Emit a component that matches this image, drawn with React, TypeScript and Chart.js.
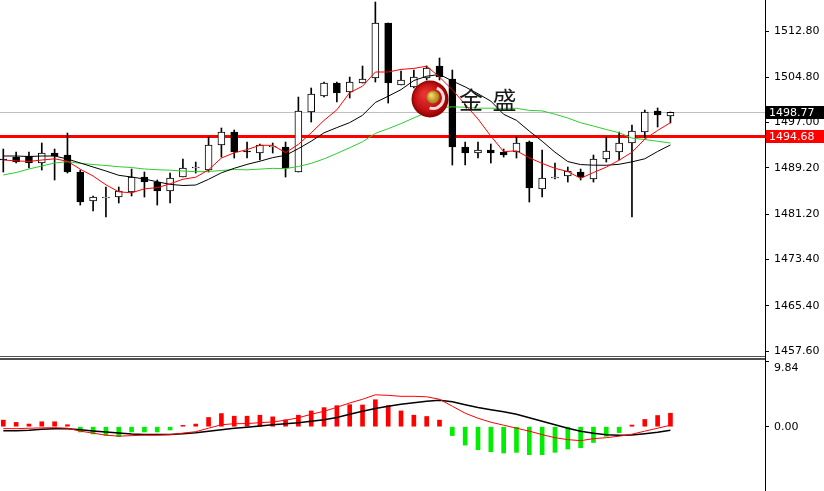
import React, { useEffect, useRef } from 'react';
import { Chart, registerables } from 'chart.js';

Chart.register(...registerables);

// ---- price candles (53 bars) ----
const opens = [1490.72, 1491.06, 1491.24, 1490.03, 1491.75, 1491.41, 1488.48, 1483.47, 1483.99, 1484.16, 1485.03, 1487.61, 1486.75, 1485.20, 1487.61, 1489.17, 1488.82, 1493.13, 1495.38, 1492.10, 1491.75, 1492.79, 1492.79, 1488.48, 1498.83, 1501.59, 1503.83, 1502.28, 1503.83, 1504.69, 1514.18, 1503.48, 1503.14, 1504.69, 1506.76, 1504.52, 1492.79, 1491.75, 1492.27, 1491.93, 1491.93, 1493.65, 1485.54, 1487.44, 1487.79, 1488.48, 1487.27, 1490.72, 1491.93, 1493.48, 1495.38, 1499.00, 1498.14];
const highs = [1492.44, 1491.93, 1491.93, 1493.48, 1492.44, 1495.20, 1488.82, 1484.34, 1485.89, 1485.89, 1488.99, 1488.48, 1487.10, 1488.30, 1490.72, 1490.20, 1494.51, 1496.07, 1495.72, 1493.65, 1493.31, 1493.48, 1493.65, 1501.41, 1502.97, 1504.00, 1504.00, 1504.86, 1506.76, 1517.80, 1514.18, 1505.90, 1506.07, 1506.76, 1508.14, 1506.07, 1493.65, 1493.65, 1493.31, 1492.44, 1494.51, 1493.82, 1492.27, 1490.03, 1489.34, 1488.99, 1491.41, 1494.51, 1495.38, 1496.58, 1499.17, 1499.52, 1498.83];
const lows = [1488.48, 1490.03, 1489.17, 1488.82, 1487.10, 1488.30, 1482.78, 1481.75, 1480.71, 1483.13, 1484.34, 1484.16, 1482.78, 1483.13, 1487.61, 1488.30, 1488.48, 1491.06, 1490.89, 1490.89, 1490.55, 1491.75, 1487.61, 1488.48, 1497.10, 1501.41, 1500.55, 1501.24, 1503.83, 1504.00, 1500.38, 1503.48, 1502.97, 1504.35, 1504.35, 1489.68, 1489.68, 1490.89, 1490.03, 1491.06, 1490.89, 1483.30, 1484.16, 1487.27, 1486.75, 1487.10, 1486.75, 1490.20, 1490.55, 1480.71, 1494.34, 1496.24, 1496.93];
const closes = [1490.55, 1490.20, 1490.03, 1491.75, 1491.24, 1488.48, 1483.30, 1484.16, 1484.16, 1485.20, 1487.61, 1486.75, 1485.20, 1487.44, 1489.17, 1489.34, 1493.13, 1495.38, 1491.93, 1491.93, 1493.13, 1492.96, 1489.17, 1499.00, 1501.93, 1503.83, 1502.10, 1504.00, 1504.52, 1514.18, 1503.83, 1504.35, 1504.86, 1506.42, 1504.86, 1492.79, 1491.75, 1492.27, 1491.75, 1491.41, 1493.48, 1485.72, 1487.44, 1487.61, 1488.65, 1487.61, 1490.72, 1492.10, 1493.48, 1495.55, 1498.83, 1498.31, 1498.77];

// ---- moving averages (red, black, green) ----
const maFast = [1490.55, 1490.40, 1490.30, 1490.55, 1490.75, 1490.34, 1488.96, 1487.79, 1486.27, 1485.06, 1484.89, 1485.58, 1485.78, 1486.44, 1487.23, 1487.58, 1488.86, 1490.89, 1491.79, 1492.34, 1493.10, 1493.07, 1491.82, 1493.24, 1495.24, 1497.38, 1499.21, 1502.17, 1503.28, 1505.73, 1505.73, 1506.18, 1506.35, 1506.73, 1504.86, 1502.66, 1500.14, 1497.62, 1494.68, 1491.99, 1492.13, 1490.93, 1489.96, 1489.11, 1488.56, 1487.39, 1488.39, 1489.32, 1490.51, 1491.89, 1494.14, 1495.65, 1496.99];
const maMid = [1491.24, 1491.24, 1491.15, 1491.24, 1491.24, 1490.72, 1490.03, 1489.34, 1488.65, 1487.91, 1487.61, 1487.27, 1486.79, 1486.35, 1486.15, 1486.23, 1487.22, 1488.34, 1489.12, 1489.79, 1490.34, 1490.96, 1491.36, 1492.51, 1493.79, 1495.24, 1496.14, 1497.00, 1498.26, 1500.48, 1501.55, 1502.69, 1504.26, 1505.00, 1505.30, 1504.19, 1503.16, 1501.98, 1500.71, 1498.43, 1497.39, 1495.53, 1493.79, 1491.90, 1490.28, 1489.76, 1489.66, 1489.64, 1489.81, 1490.23, 1490.76, 1492.02, 1493.15];
const maSlow = [1487.96, 1488.39, 1489.00, 1489.51, 1490.03, 1490.25, 1489.98, 1489.77, 1489.60, 1489.39, 1489.25, 1489.00, 1488.87, 1488.79, 1488.65, 1488.53, 1488.56, 1488.74, 1488.91, 1488.85, 1488.98, 1489.11, 1489.07, 1489.43, 1489.97, 1490.74, 1491.68, 1492.67, 1493.69, 1495.14, 1495.95, 1496.83, 1497.81, 1498.76, 1499.54, 1499.72, 1499.65, 1499.49, 1499.48, 1499.46, 1499.47, 1499.11, 1499.02, 1498.45, 1497.79, 1496.98, 1496.41, 1495.81, 1495.26, 1494.33, 1494.08, 1493.78, 1493.47];

// ---- MACD panel ----
const macdDif = [-0.30, -0.30, -0.23, -0.18, -0.15, -0.23, -0.68, -0.98, -1.29, -1.44, -1.36, -1.29, -1.29, -1.21, -0.98, -0.76, -0.23, 0.30, 0.45, 0.48, 0.61, 0.73, 0.98, 1.36, 1.89, 2.35, 2.95, 3.61, 4.17, 4.85, 4.77, 4.62, 4.62, 4.55, 4.17, 3.11, 2.05, 1.29, 0.68, 0.23, -0.23, -0.68, -1.21, -1.67, -1.97, -2.12, -1.82, -1.67, -1.44, -1.14, -0.68, -0.23, 0.23];
const macdDea = [-0.61, -0.61, -0.53, -0.38, -0.30, -0.30, -0.48, -0.65, -0.80, -0.95, -1.11, -1.18, -1.18, -1.18, -1.09, -0.91, -0.68, -0.45, -0.23, -0.08, 0.11, 0.30, 0.45, 0.61, 0.83, 1.06, 1.41, 1.89, 2.35, 2.76, 3.11, 3.41, 3.64, 3.86, 4.02, 3.79, 3.33, 2.91, 2.58, 2.27, 1.89, 1.36, 0.83, 0.30, -0.23, -0.68, -0.98, -1.21, -1.29, -1.26, -1.06, -0.83, -0.53];
const macdHist = [1.0, 0.65, 0.4, 0.75, 0.75, 0.3, -0.8, -1.1, -1.3, -1.5, -0.8, -0.8, -0.8, -0.5, 0.2, 0.4, 1.4, 2.0, 1.6, 1.6, 1.75, 1.5, 1.05, 1.75, 2.4, 2.9, 3.2, 3.35, 3.3, 4.1, 3.2, 2.4, 1.75, 1.55, 1.0, -1.35, -2.8, -3.5, -3.8, -4.0, -3.9, -4.25, -4.25, -3.9, -3.4, -3.2, -2.4, -1.45, -0.9, 0.25, 1.1, 1.7, 2.05];

// ---- axis ticks & levels ----
const priceTicks = [1457.6, 1465.4, 1473.4, 1481.2, 1489.2, 1497.0, 1504.8, 1512.8];
const macdTicks = [9.84, 0];
const bidPrice = 1498.77;
const levelPrice = 1494.68;
const logoText = '金 盛';

const FONT = '"DejaVu Sans", sans-serif';

export default function App() {
  const mainRef = useRef<HTMLCanvasElement>(null);
  const macdRef = useRef<HTMLCanvasElement>(null);

  useEffect(() => {
    document.body.style.margin = '0';
    Chart.defaults.font.family = FONT;

    const X_MIN = -0.257;
    const X_MAX = 59.37;
    const xScale: any = { type: 'linear', display: false, min: X_MIN, max: X_MAX, offset: false };
    const pt = (arr: number[]) => arr.map((v, i) => ({ x: i, y: v }));

    const mainPlugin: any = {
      id: 'mainDeco',
      beforeDatasetsDraw(chart: any) {
        const { ctx, chartArea } = chart;
        const ys = chart.scales.y;
        ctx.save();
        const yb = Math.round(ys.getPixelForValue(bidPrice)) + 0.5;
        ctx.strokeStyle = '#c0c0c0';
        ctx.lineWidth = 1;
        ctx.beginPath();
        ctx.moveTo(chartArea.left, yb);
        ctx.lineTo(chartArea.right, yb);
        ctx.stroke();
        const yl = Math.round(ys.getPixelForValue(levelPrice)) + 0.5;
        ctx.strokeStyle = '#ff0000';
        ctx.lineWidth = 3;
        ctx.beginPath();
        ctx.moveTo(chartArea.left, yl);
        ctx.lineTo(chartArea.right, yl);
        ctx.stroke();
        ctx.restore();
      },
      afterDatasetsDraw(chart: any) {
        const { ctx } = chart;
        ctx.save();
        const cx = 430, cy = 99, r = 18.5;
        const g = ctx.createRadialGradient(cx - 5, cy - 5, 3, cx, cy, r);
        g.addColorStop(0, '#e83030');
        g.addColorStop(0.7, '#c01010');
        g.addColorStop(1, '#8a0000');
        ctx.fillStyle = g;
        ctx.beginPath();
        ctx.arc(cx, cy, r, 0, Math.PI * 2);
        ctx.fill();
        ctx.strokeStyle = 'rgba(255,230,230,0.95)';
        ctx.lineWidth = 3;
        ctx.beginPath();
        ctx.arc(cx + 3, cy - 1, 10.5, -1.2, 1.9);
        ctx.stroke();
        const gg = ctx.createRadialGradient(cx + 1, cy - 4, 1, cx + 3, cy - 2, 6.5);
        gg.addColorStop(0, '#f3d36a');
        gg.addColorStop(1, '#a07c10');
        ctx.fillStyle = gg;
        ctx.beginPath();
        ctx.arc(cx + 3, cy - 2, 6.5, 0, Math.PI * 2);
        ctx.fill();
        ctx.fillStyle = '#1a1a1a';
        ctx.font = '24px "Noto Sans CJK SC"';
        ctx.textBaseline = 'middle';
        (ctx as any).letterSpacing = '2px';
        ctx.fillText(logoText, 459, 100);
        ctx.restore();
      },
      afterDraw(chart: any) {
        const { ctx } = chart;
        const ys = chart.scales.y;
        const box = (price: number, bg: string) => {
          const yy = Math.round(ys.getPixelForValue(price));
          ctx.fillStyle = bg;
          ctx.fillRect(766, yy - 6, 58, 13);
          ctx.fillStyle = '#ffffff';
          ctx.font = '11px ' + FONT;
          ctx.textBaseline = 'middle';
          ctx.textAlign = 'left';
          ctx.fillText(price.toFixed(2), 769, yy + 1);
        };
        ctx.save();
        box(bidPrice, '#000000');
        box(levelPrice, '#ff0000');
        ctx.restore();
      },
    };

    const main = new Chart(mainRef.current as HTMLCanvasElement, {
      type: 'bar',
      data: {
        datasets: [
          { type: 'line', label: 'MA fast', data: pt(maFast), borderColor: '#ff0000', borderWidth: 1, pointRadius: 0, tension: 0, order: 1 } as any,
          { type: 'line', label: 'MA mid', data: pt(maMid), borderColor: '#000000', borderWidth: 1, pointRadius: 0, tension: 0, order: 1 } as any,
          { type: 'line', label: 'MA slow', data: pt(maSlow), borderColor: '#2ecc2e', borderWidth: 1, pointRadius: 0, tension: 0, order: 1 } as any,
          {
            type: 'bar', label: 'body',
            data: opens.map((o, i) => ({ x: i, y: [o, closes[i]] })),
            backgroundColor: closes.map((c, i) => (c >= opens[i] ? '#ffffff' : '#000000')),
            borderColor: '#000000', borderWidth: 1, borderSkipped: false,
            barThickness: 7, grouped: false, order: 2,
          } as any,
          {
            type: 'bar', label: 'wick',
            data: lows.map((l, i) => ({ x: i, y: [l, highs[i]] })),
            backgroundColor: '#000000', borderWidth: 0,
            barThickness: 1, grouped: false, order: 3,
          } as any,
        ],
      },
      options: {
        responsive: false,
        animation: false,
        devicePixelRatio: 1,
        events: [],
        layout: { padding: 0 },
        plugins: { legend: { display: false }, tooltip: { enabled: false } },
        scales: {
          x: xScale,
          y: {
            position: 'right',
            min: 1456.74,
            max: 1518.15,
            afterBuildTicks: (s: any) => { s.ticks = priceTicks.map((v) => ({ value: v })); },
            afterFit: (s: any) => { s.width = 59; s.paddingTop = 0; s.paddingBottom = 0; },
            ticks: { autoSkip: false, color: '#000000', font: { family: FONT, size: 11 }, padding: 5, callback: (v: any) => Number(v).toFixed(2) },
            grid: { drawOnChartArea: false, drawTicks: true, tickLength: 4, color: '#000000' },
            border: { display: true, color: '#000000' },
          } as any,
        },
      },
      plugins: [mainPlugin],
    });

    const macdPlugin: any = {
      id: 'macdLabels',
      afterDraw(chart: any) {
        const { ctx } = chart;
        const ys = chart.scales.y;
        ctx.save();
        ctx.fillStyle = '#000000';
        ctx.font = '11px ' + FONT;
        ctx.textBaseline = 'middle';
        ctx.textAlign = 'left';
        macdTicks.forEach((v) => {
          let yy = ys.getPixelForValue(v);
          if (yy < 7) yy += 6;
          ctx.fillText(v.toFixed(2), 774, yy + 0.5);
        });
        ctx.restore();
      },
    };

    const macd = new Chart(macdRef.current as HTMLCanvasElement, {
      type: 'bar',
      data: {
        datasets: [
          { type: 'line', label: 'DIF', data: pt(macdDif), borderColor: '#ff0000', borderWidth: 1, pointRadius: 0, tension: 0, order: 1 } as any,
          { type: 'line', label: 'DEA', data: pt(macdDea), borderColor: '#000000', borderWidth: 1.5, pointRadius: 0, tension: 0, order: 1 } as any,
          {
            type: 'bar', label: 'hist',
            data: pt(macdHist),
            backgroundColor: macdHist.map((v) => (v >= 0 ? '#ff0000' : '#00ee00')),
            borderWidth: 0, barThickness: 4, grouped: false, order: 2,
          } as any,
        ],
      },
      options: {
        responsive: false,
        animation: false,
        devicePixelRatio: 1,
        events: [],
        layout: { padding: 0 },
        plugins: { legend: { display: false }, tooltip: { enabled: false } },
        scales: {
          x: xScale,
          y: {
            position: 'right',
            min: -9.78,
            max: 10.144,
            afterBuildTicks: (s: any) => { s.ticks = macdTicks.map((v) => ({ value: v })); },
            afterFit: (s: any) => { s.width = 59; s.paddingTop = 0; s.paddingBottom = 0; },
            ticks: { display: false, autoSkip: false },
            grid: { drawOnChartArea: false, drawTicks: true, tickLength: 4, color: '#000000' },
            border: { display: true, color: '#000000' },
          } as any,
        },
      },
      plugins: [macdPlugin],
    });

    return () => {
      main.destroy();
      macd.destroy();
    };
  }, []);

  return (
    <div style={{ position: 'fixed', left: 0, top: 0, width: 824, height: 491, background: '#ffffff', overflow: 'hidden' }}>
      <canvas ref={mainRef} width={824} height={356} style={{ position: 'absolute', left: 0, top: 0, display: 'block' }} />
      <div style={{ position: 'absolute', left: 0, top: 356, width: 765, height: 1, background: '#505050' }} />
      <div style={{ position: 'absolute', left: 0, top: 358, width: 765, height: 2, background: '#505050' }} />
      <div style={{ position: 'absolute', left: 765, top: 356, width: 1, height: 4, background: '#000000' }} />
      <canvas ref={macdRef} width={824} height={131} style={{ position: 'absolute', left: 0, top: 360, display: 'block' }} />
    </div>
  );
}
